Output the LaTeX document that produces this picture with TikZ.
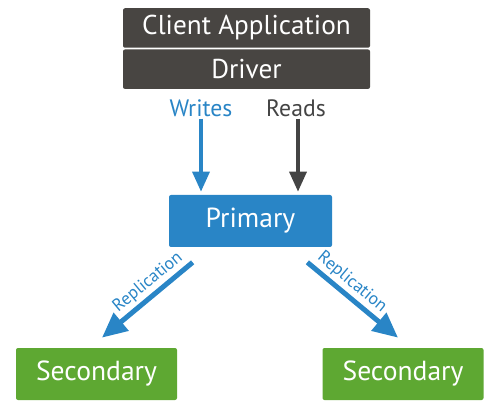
\documentclass[tikz,border=0pt]{standalone}
\usepackage{fontspec}
\setmainfont{PT Sans}
\usepackage{tikz}
\usetikzlibrary{positioning,arrows.meta}
\definecolor{clientgray}{RGB}{72,69,66}
\definecolor{readgray}{RGB}{68,68,68}
\definecolor{primblue}{RGB}{41,133,198}
\definecolor{secgreen}{RGB}{94,168,50}
\tikzstyle{clientbox} = [rectangle, rounded corners=0.04cm, minimum width=4.94cm, minimum height=0.79cm, inner sep=0pt, text centered, fill=clientgray, text=white, font=\fontsize{15.5pt}{17pt}\selectfont]
\tikzstyle{primbox} = [rectangle, rounded corners=0.04cm, minimum width=3.26cm, minimum height=1.04cm, inner sep=0pt, text centered, fill=primblue, text=white, font=\fontsize{15.7pt}{17pt}\selectfont]
\tikzstyle{secbox} = [rectangle, rounded corners=0.04cm, minimum width=3.22cm, minimum height=1.04cm, inner sep=0pt, text centered, fill=secgreen, text=white, font=\fontsize{15.7pt}{17pt}\selectfont]
\tikzstyle{oplabel} = [inner sep=1pt, font=\fontsize{13.5pt}{15pt}\selectfont]
\tikzstyle{oparrow} = [line width=0.07cm, -{Triangle[width=0.34cm,length=0.4cm]}]
\tikzstyle{reparrow} = [line width=0.1cm, -{Triangle[width=0.45cm,length=0.5cm]}, primblue]
\tikzstyle{replabel} = [sloped, above, inner sep=1.5pt, text=primblue, font=\fontsize{10pt}{12pt}\selectfont]

\begin{document}
\begin{tikzpicture}[node distance=0.02cm]
		\useasboundingbox (0,0) rectangle (10,-8.18);

		% Nodes
		\node (client) [clientbox] at (4.93,-0.56) {Client Application};
		\node (driver) [clientbox, below=of client] {Driver};

		\node (writes) [oplabel, text=primblue] at (4.02,-2.16) {Writes};
		\node (reads) [oplabel, text=readgray] at (5.92,-2.16) {Reads};

		\node (primary) [primbox] at (5.01,-4.42) {Primary};

		\node (secA) [secbox] at (1.93,-7.48) {Secondary};
		\node (secB) [secbox] at (8.06,-7.48) {Secondary};

		% Arrows
		\draw [oparrow, primblue, shorten >=0.06cm] (writes.south) -- (writes.south |- primary.north);
		\draw [oparrow, readgray, shorten >=0.06cm] ([xshift=0.04cm]reads.south) -- ([xshift=0.04cm]reads.south |- primary.north);

		\draw [reparrow] ([shift={(0.48,-0.3)}]primary.south west) -- node[replabel, pos=0.4] {Replication} ([shift={(0.11,0.2)}]secA.north);
		\draw [reparrow] ([shift={(-0.5,-0.3)}]primary.south east) -- node[replabel, pos=0.4] {Replication} ([shift={(-0.1,0.2)}]secB.north);
	\end{tikzpicture}
\end{document}
